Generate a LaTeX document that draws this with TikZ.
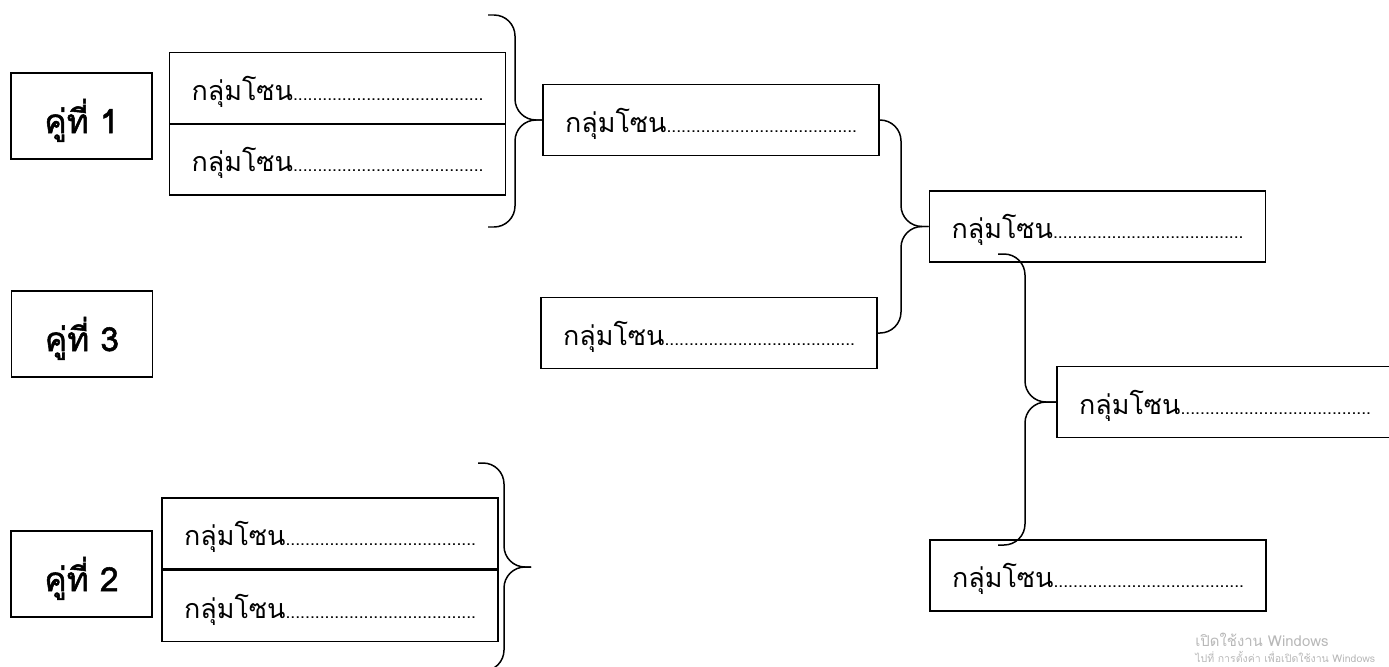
\documentclass[tikz,border=0pt]{standalone}
\usepackage{fontspec}
\newfontfamily\thaifont[Script=Thai]{Loma}
\newfontfamily\thaiheavy[Script=Thai, FakeBold=1.6]{Loma}
\newcommand{\zonedots}{{\fontsize{10}{12}\selectfont .......................................}}

\begin{document}
\begin{tikzpicture}[
            x = 0.02cm, y = -0.02cm,
            every node/.style={text depth=0pt, inner sep=0pt},
            pair/.style={draw, line width=1pt, minimum width=2.82cm, minimum height=1.72cm, font=\thaiheavy\fontsize{19}{22}\selectfont},
            zone/.style={draw, line width=1pt, minimum width=6.72cm, minimum height=1.42cm, font=\thaifont\fontsize{15.3}{18}\selectfont},
            brace/.style={line width=.85pt, rounded corners=.42cm},
            note/.style={text=black!28, font=\thaifont\fontsize{#1}{#1}\selectfont},
            ]
        \useasboundingbox (0,0) rectangle (1389,666);

        % pairs
        \node[pair] (p1) at (81.5,116) {คู่ที่ 1};
        \node[pair] (p3) at (82,334) {คู่ที่ 3};
        \node[pair] (p2) at (81.5,574) {คู่ที่ 2};

        % first round
        \node[zone] (g1a) at (337.5,88) {กลุ่มโซน\zonedots};
        \node[zone] (g1b) at (337.5,159.5) {กลุ่มโซน\zonedots};
        \node[zone] (g2a) at (330,533.5) {กลุ่มโซน\zonedots};
        \node[zone] (g2b) at (330,606) {กลุ่มโซน\zonedots};

        % next rounds
        \node[zone] (A) at (711,120) {กลุ่มโซน\zonedots};
        \node[zone] (B) at (709,333) {กลุ่มโซน\zonedots};
        \node[zone] (C) at (1097.5,226.5) {กลุ่มโซน\zonedots};
        \node[zone] (D) at (1225,402) {กลุ่มโซน\zonedots};
        \node[zone] (E) at (1098,575.5) {กลุ่มโซน\zonedots};

        % brace ends
        \coordinate (t1) at (488,15);
        \coordinate (m1) at (515,120);
        \coordinate (b1) at (488,227);
        \coordinate (m2) at (901,226.5);
        \coordinate (t3) at (998,254);
        \coordinate (m3) at (1025,402);
        \coordinate (b3) at (998,545);
        \coordinate (t4) at (478,463);
        \coordinate (m4) at (504,567);
        \coordinate (k4) at (531,567);
        \coordinate (b4) at (478,671);

        \draw[brace] (t1) -| (m1) -- (A.west);
        \draw[brace] (b1) -| (m1) -- (A.west);
        \draw[brace] (A.east) -| (m2) -- (C.west);
        \draw[brace] (B.east) -| (m2) -- (C.west);
        \draw[brace] (t3) -| (m3) -- (D.west);
        \draw[brace] (b3) -| (m3) -- (D.west);
        \draw[brace] (t4) -| (m4) -- (k4);
        \draw[brace] (b4) -| (m4) -- (k4);

        \node[note=8.5, anchor=west] (w1) at (1195,640) {เปิดใช้งาน Windows};
        \node[note=6, anchor=west] (w2) at (1195,657) {ไปที่ การตั้งค่า เพื่อเปิดใช้งาน Windows};
    \end{tikzpicture}
\end{document}
